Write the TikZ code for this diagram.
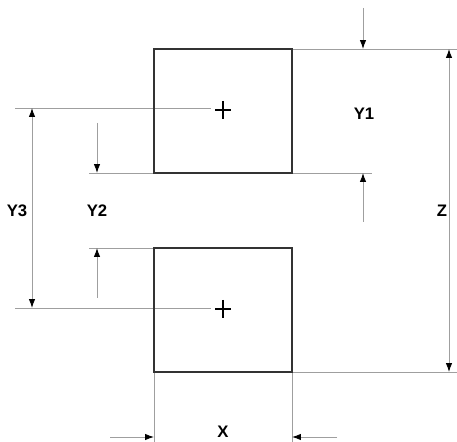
\documentclass[tikz,border=0pt]{standalone}
\usepackage{fontspec}
\setmainfont{Liberation Sans}
\usetikzlibrary{arrows.meta}

\begin{document}
\begin{tikzpicture}[x=0.02cm, y=-0.02cm,
    dim/.style={gray!75, line width=0.5pt},
    arr/.style={dim, -{Latex[black, length=5pt, width=3.6pt]}},
    both/.style={dim, {Latex[black, length=5pt, width=3.6pt]}-{Latex[black, length=5pt, width=3.6pt]}},
    lbl/.style={font=\fontsize{9.5}{11}\selectfont\bfseries}]
    \useasboundingbox (0,0) rectangle (457,442);

    % Extension lines
    \draw[dim] (292,49) -- (457,49);
    \draw[dim] (89,173) -- (372,173);
    \draw[dim] (89,248) -- (154,248);
    \draw[dim] (292,372) -- (457,372);
    \draw[dim] (15,108) -- (211,108);
    \draw[dim] (15,308) -- (211,308);
    \draw[dim] (154,372) -- (154,442);
    \draw[dim] (292,372) -- (292,442);

    % Boxes
    \draw[line width=0.7pt, black!80] (154,49) rectangle (292,173);
    \draw[line width=0.7pt, black!80] (154,248) rectangle (292,372);

    % Centres
    \draw[line width=1.1pt] (215,110) -- (231,110) (223,101) -- (223,119);
    \draw[line width=1.1pt] (215,309) -- (231,309) (223,300) -- (223,318);

    % Dimension arrows
    \draw[arr] (363,8) -- (363,49);
    \draw[arr] (363,222) -- (363,173);
    \draw[arr] (97,123) -- (97,173);
    \draw[arr] (97,298) -- (97,248);
    \draw[arr] (110,437) -- (154,437);
    \draw[arr] (337,437) -- (292,437);
    \draw[both] (32,108) -- (32,308);
    \draw[both] (449,49) -- (449,372);

    % Labels
    \node[lbl] (y1) at (364,114) {Y1};
    \node[lbl] (y2) at (97,211) {Y2};
    \node[lbl] (y3) at (17,211) {Y3};
    \node[lbl] (z) at (442,211) {Z};
    \node[lbl, inner sep=0pt] (x) at (223,432) {X};
\end{tikzpicture}
\end{document}
